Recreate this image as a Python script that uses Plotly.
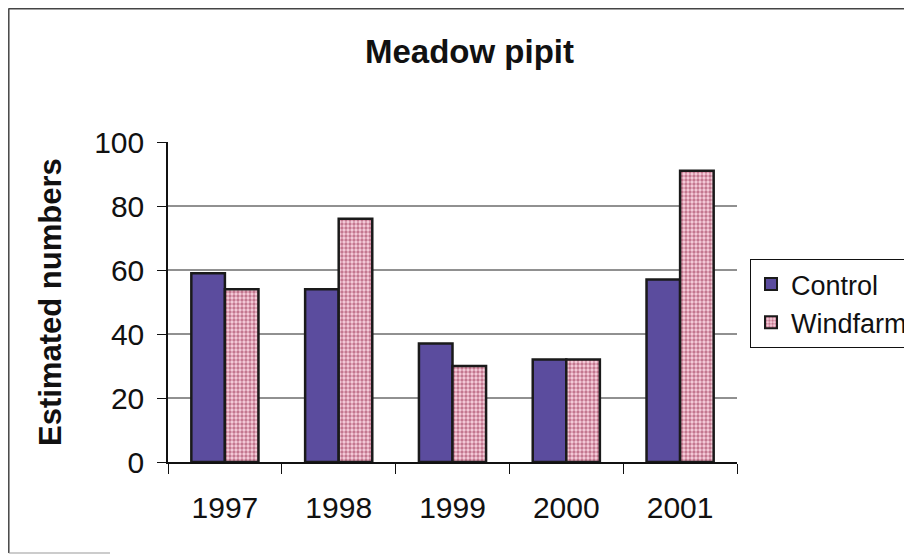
import plotly.graph_objects as go

years = ["1997", "1998", "1999", "2000", "2001"]
control = [59, 54, 37, 32, 57]
windfarm = [54, 76, 30, 32, 91]
y_ticks = [0, 20, 40, 60, 80, 100]
grid_values = [20, 40, 60, 80]

FONT = "Arial, Liberation Sans, sans-serif"
OFF = 8  # page body margin offset
W, H = 912 - OFF, 556 - OFF
# plot area in screen pixels (reference): x 168..737, y 142..462
L = 168 - OFF
T = 142 - OFF
R = W - (737 - OFF)
B = H - (462 - OFF)
pw, ph = W - L - R, H - T - B

def px_x(sx):
    return (sx - OFF - L) / pw

def px_y(sy):
    return (H - B - (sy - OFF)) / ph

fig = go.Figure()
fig.add_trace(go.Bar(
    name="Control", x=years, y=control,
    marker=dict(color="#5B4C9E", line=dict(color="#1a1a1a", width=2.5)),
))
fig.add_trace(go.Bar(
    name="Windfarm", x=years, y=windfarm,
    marker=dict(color="#F6CADA", line=dict(color="#1a1a1a", width=2.5),
                pattern=dict(shape=".", fgcolor="#8E1E40", bgcolor="#F8D0DE",
                             size=4, solidity=0.55, fillmode="overlay")),
))

shapes = []
for g in grid_values:
    shapes.append(dict(type="line", xref="paper", yref="y", x0=0, x1=1, y0=g, y1=g,
                       line=dict(color="#222", width=1), layer="below"))
# outer chart border (top, left, partial bottom)
shapes.append(dict(type="line", xref="paper", yref="paper", x0=px_x(8.5), x1=px_x(930),
                   y0=px_y(8.8), y1=px_y(8.8), line=dict(color="#444", width=1.5)))
shapes.append(dict(type="line", xref="paper", yref="paper", x0=px_x(8.8), x1=px_x(8.8),
                   y0=px_y(8.5), y1=px_y(553), line=dict(color="#444", width=1.5)))
shapes.append(dict(type="line", xref="paper", yref="paper", x0=px_x(8.8), x1=px_x(110),
                   y0=px_y(553), y1=px_y(553), line=dict(color="#999", width=1)))

fig.update_layout(
    width=W, height=H,
    margin=dict(l=L, r=R, t=T, b=B, autoexpand=False),
    paper_bgcolor="white", plot_bgcolor="white",
    font=dict(family=FONT, color="#111", size=28),
    title=dict(text="<b>Meadow pipit</b>", x=(469.5 - OFF) / W, xanchor="center",
               xref="container", y=1 - (51 - OFF) / H, yanchor="middle", yref="container",
               font=dict(size=33, family=FONT, color="#111")),
    barmode="group", bargap=0.41, bargroupgap=0,
    showlegend=True,
    legend=dict(xref="container", yref="container",
                x=(750 - OFF) / W, xanchor="left", y=1 - (259 - OFF) / H, yanchor="top",
                bgcolor="white", bordercolor="#111", borderwidth=1,
                font=dict(size=27, family=FONT, color="#111"),
                itemsizing="constant", tracegroupgap=0),
    shapes=shapes,
    annotations=[dict(text="<b>Estimated numbers</b>", xref="paper", yref="paper",
                      x=px_x(50), y=px_y(302), xanchor="center", yanchor="middle",
                      textangle=-90, showarrow=False,
                      font=dict(size=31, family=FONT, color="#111"))],
)
fig.update_xaxes(type="category", showgrid=False, showline=True, linecolor="#111",
                 linewidth=1.5, ticks="outside", tickson="boundaries", ticklen=10,
                 tickcolor="#111", tickfont=dict(size=30, family=FONT, color="#111"),
                 ticklabelstandoff=18, automargin=False)
fig.update_yaxes(range=[0, 100], tickvals=y_ticks, showgrid=False, zeroline=False,
                 showline=True, linecolor="#111", linewidth=1.5, ticks="outside",
                 ticklen=9, tickcolor="#111",
                 tickfont=dict(size=30, family=FONT, color="#111"),
                 ticklabelstandoff=7, automargin=False)

fig.write_html("out.html")
